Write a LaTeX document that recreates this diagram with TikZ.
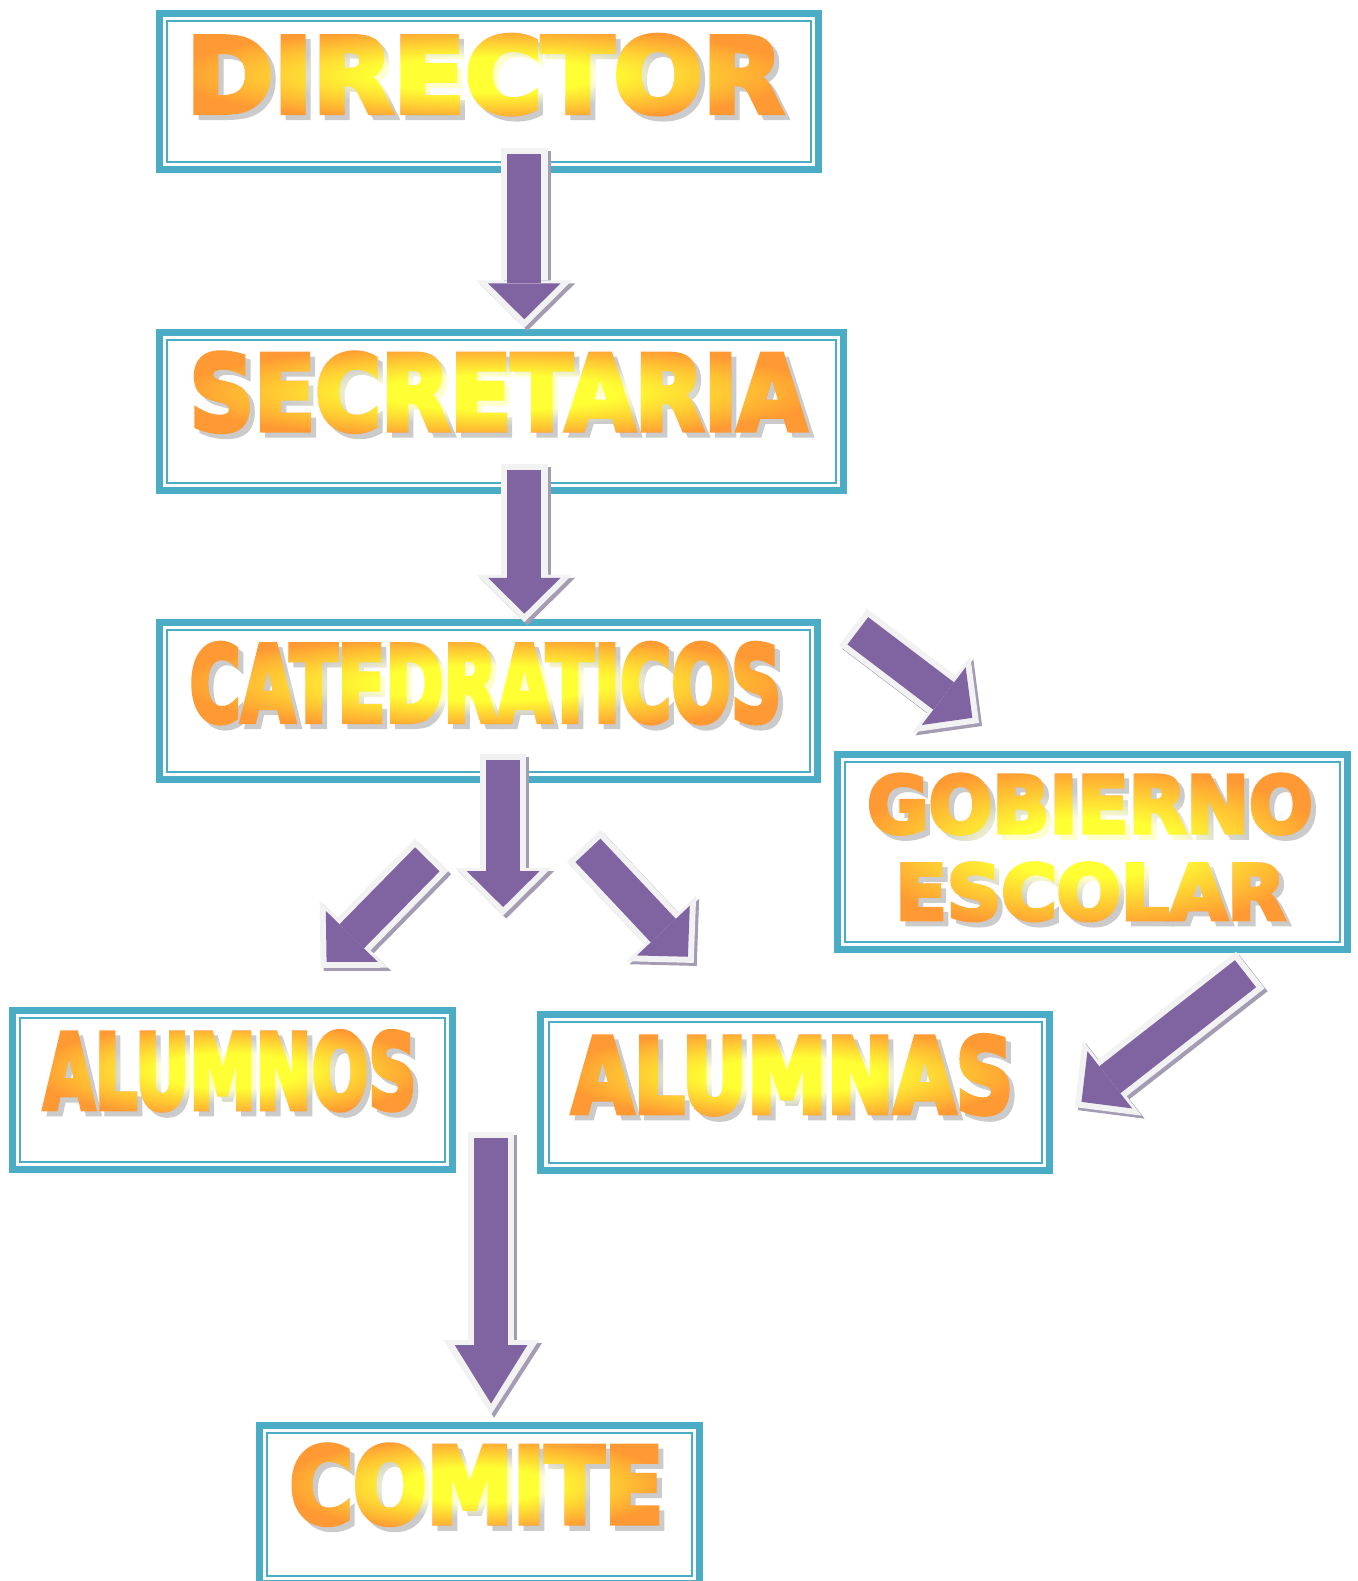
\documentclass[tikz,border=0pt]{standalone}
\usepackage{fontspec}
\newfontfamily\heavyfont{DejaVu Sans}[BoldFeatures={FakeBold=5}]
\usetikzlibrary{arrows.meta}
\definecolor{boxteal}{HTML}{4BACC6}
\definecolor{arrpurple}{HTML}{8064A2}
\definecolor{arrrim}{HTML}{F2F2F2}
\definecolor{arrshade}{HTML}{A39CB3}
\definecolor{txtorange}{HTML}{FF9933}
\definecolor{txtshade}{HTML}{CBCBCB}
\definecolor{glowcore}{rgb}{1,1,0}
\definecolor{glowedge}{rgb}{0.6,0.6,0}
\pgfdeclareradialshading{yellowglow}{\pgfpoint{0bp}{0bp}}{color(0bp)=(glowcore); color(9bp)=(glowcore); color(25bp)=(glowedge); color(50bp)=(glowedge)}
\newcommand{\wt}[3]{\resizebox*{#1}{#2}{\heavyfont\bfseries #3}}
\newcommand{\innerframe}[1]{\draw[innerframe] ([shift={(5.5pt,-5.5pt)}]#1.north west) rectangle ([shift={(-5.5pt,5.5pt)}]#1.south east);}
% name, x, y, w, h, text
\newcommand{\wordart}[6]{%
  \node[wordshade] at ([shift={(2.5pt,-2.5pt)}]#2,#3) {\wt{#4}{#5}{#6}};
  \node[wordfill] (#1) at (#2,#3) {\wt{#4}{#5}{#6}};}
% x, y, rx, ry
\newcommand{\wordglow}[4]{%
  \begin{scope}[blend mode=lighten]
    \shade[shading=yellowglow] (#1,#2) ellipse [x radius=#3, y radius=#4];
  \end{scope}}
\newcommand{\blockarrow}[5]{%
  \draw[blockshadow=#3] (#1) -- (#2);
  \draw[blockrim=#3] (#1) -- (#2);
  \draw[blockcore={#4}{#5}] (#1) -- (#2);}
\tikzset{
  frame/.style={draw=boxteal, line width=3.5pt, fill=white, inner sep=0pt},
  innerframe/.style={draw=boxteal, line width=1pt},
  wordshade/.style={text=txtshade, inner sep=0pt},
  wordfill/.style={text=txtorange, inner sep=0pt},
  blockshadow/.style={draw=arrshade, line width=23pt, -{Triangle[width=47.5pt,length=#1,line width=0pt]}, transform canvas={shift={(1.5pt,-1.5pt)}}},
  blockrim/.style={draw=arrrim, line width=23pt, -{Triangle[width=47.5pt,length=#1,line width=0pt]}},
  blockcore/.style 2 args={draw=arrpurple, line width=17pt, -{Triangle[width=36pt,length=#1,line width=0pt]}, shorten <=3pt, shorten >=#2},
}
\begin{document}
\begin{tikzpicture}[x=0.5pt, y=-0.5pt]
\useasboundingbox (0,0) rectangle (1346,1568);
\fill[white] (0,0) rectangle (1346,1568);

% boxes
\node[frame, minimum width=326.5pt, minimum height=77.5pt] (director) at (485,91) {};
\innerframe{director}
\node[frame, minimum width=339pt, minimum height=78.5pt] (secretaria) at (497.5,408) {};
\innerframe{secretaria}
\node[frame, minimum width=326pt, minimum height=78pt] (catedraticos) at (484.5,695.5) {};
\innerframe{catedraticos}
\node[frame, minimum width=253pt, minimum height=96.5pt] (gobierno) at (1083.5,845) {};
\innerframe{gobierno}
\node[frame, minimum width=218pt, minimum height=78.5pt] (alumnos) at (230.5,1081) {};
\innerframe{alumnos}
\node[frame, minimum width=252pt, minimum height=77pt] (alumnas) at (788.5,1083.5) {};
\innerframe{alumnas}
\node[frame, minimum width=218pt, minimum height=78.5pt] (comite) at (475.5,1492) {};
\innerframe{comite}

% texts
\wordart{tdirector}{481}{74}{296pt}{39pt}{DIRECTOR}
\wordglow{481}{74}{155pt}{24pt}
\wordart{tsecretaria}{494}{389}{306pt}{39pt}{SECRETARIA}
\wordglow{494}{389}{160pt}{24pt}
\wordart{tcatedraticos}{481.5}{677.5}{293.5pt}{39.5pt}{CATEDRATICOS}
\wordglow{481.5}{677.5}{153pt}{24pt}
\wordart{tgobierno}{1081}{797.5}{221pt}{29.5pt}{GOBIERNO}
\wordart{tescolar}{1081.5}{884.5}{193.5pt}{28.5pt}{ESCOLAR}
\wordglow{1081}{841}{119pt}{41pt}
\wordart{talumnos}{228}{1062}{185pt}{39pt}{ALUMNOS}
\wordglow{228}{1062}{97pt}{24pt}
\wordart{talumnas}{786}{1066}{219pt}{39pt}{ALUMNAS}
\wordglow{786}{1066}{114pt}{24pt}
\wordart{tcomite}{472.5}{1472.5}{185.5pt}{39.5pt}{COMITE}
\wordglow{472.5}{1472.5}{97pt}{24pt}

% arrow end points
\coordinate (a1s) at (520,147);   \coordinate (a1e) at (520,325);
\coordinate (a2s) at (520,460);   \coordinate (a2e) at (520,617);
\coordinate (a3s) at (499,748);   \coordinate (a3e) at (499,908);
\coordinate (a4s) at (428,848);   \coordinate (a4e) at (318,960);
\coordinate (a5s) at (579,839);   \coordinate (a5e) at (688,955);
\coordinate (a6s) at (846,622);   \coordinate (a6e) at (971,717);
\coordinate (a7s) at (1240,962);  \coordinate (a7e) at (1066,1098);
\coordinate (a8s) at (487,1123);  \coordinate (a8e) at (487,1403);

\blockarrow{a1s}{a1e}{23.5pt}{17.8pt}{4.2pt}
\blockarrow{a2s}{a2e}{23.5pt}{17.8pt}{4.2pt}
\blockarrow{a3s}{a3e}{23.5pt}{17.8pt}{4.2pt}
\blockarrow{a4s}{a4e}{23.5pt}{17.8pt}{4.2pt}
\blockarrow{a5s}{a5e}{23.5pt}{17.8pt}{4.2pt}
\blockarrow{a6s}{a6e}{23.5pt}{17.8pt}{4.2pt}
\blockarrow{a7s}{a7e}{23.5pt}{17.8pt}{4.2pt}
\blockarrow{a8s}{a8e}{37pt}{29pt}{5.5pt}
\end{tikzpicture}
\end{document}
